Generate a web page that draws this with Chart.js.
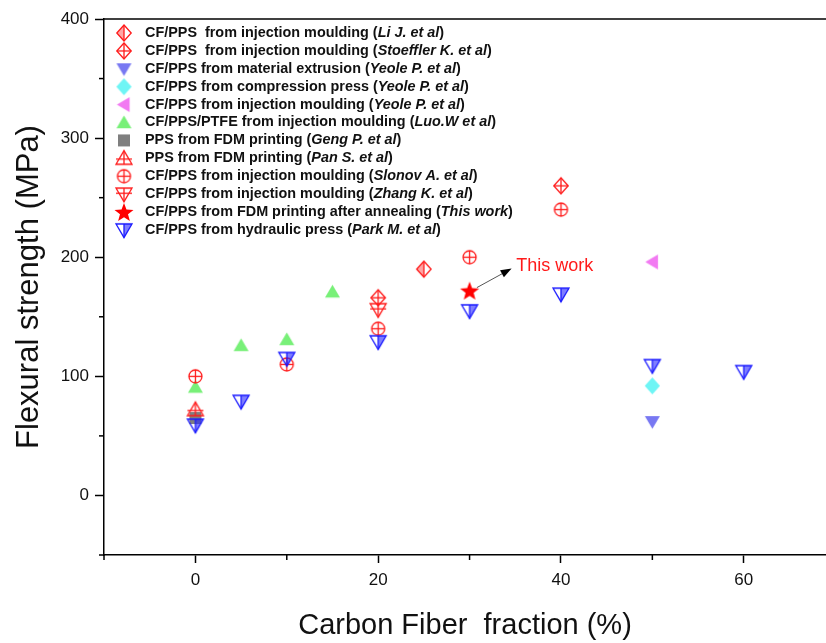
<!DOCTYPE html>
<html>
<head>
<meta charset="utf-8">
<script src="https://cdn.jsdelivr.net/npm/chart.js@4/dist/chart.umd.min.js"></script>
<style>
html, body { margin: 0; padding: 0; background: #fff; overflow: hidden; }
</style>
</head>
<body>
<canvas id="myChart" width="834" height="643"></canvas>
<script>
// data: [fiber fraction %, flexural strength MPa]
const liJ = [[25, 190]];
const stoeffler = [[20, 166], [40, 260]];
const yeoleExtrusion = [[50, 62]];
const yeoleCompression = [[50, 92]];
const yeoleInjection = [[50, 196]];
const luo = [[0, 91], [5, 126], [10, 131], [15, 171]];
const geng = [[0, 65]];
const pan = [[0, 72]];
const slonov = [[0, 100], [10, 110], [20, 140], [30, 200], [40, 240]];
const zhang = [[20, 156]];
const thisWork = [[30, 172]];
const park = [[0, 59], [5, 79], [10, 115], [20, 129], [30, 155], [40, 169], [50, 109], [60, 104]];

const legendText = [
	'CF/PPS  from injection moulding (',
	'CF/PPS  from injection moulding (',
	'CF/PPS from material extrusion (',
	'CF/PPS from compression press (',
	'CF/PPS from injection moulding (',
	'CF/PPS/PTFE from injection moulding (',
	'PPS from FDM printing (',
	'PPS from FDM printing (',
	'CF/PPS from injection moulding (',
	'CF/PPS from injection moulding (',
	'CF/PPS from FDM printing after annealing (',
	'CF/PPS from hydraulic press ('
];
const legendAuthor = [
	'Li J. et al', 'Stoeffler K. et al', 'Yeole P. et al', 'Yeole P. et al',
	'Yeole P. et al', 'Luo.W et al', 'Geng P. et al', 'Pan S. et al',
	'Slonov A. et al', 'Zhang K. et al', 'This work', 'Park M. et al'
];

const xTicks = [-10, 0, 10, 20, 30, 40, 50, 60];
const xTickLabels = ['0', '20', '40', '60'];
const yTicks = [-50, 0, 50, 100, 150, 200, 250, 300, 350, 400];
const yTickLabels = ['0', '100', '200', '300', '400'];

const RED = '#ff1a1a';
const BLUE = '#1a1aff';

// draw one marker into its own little canvas, used as pointStyle
function makeMarker(kind, color, fill, size) {
	const s = size + 4;
	const c = document.createElement('canvas');
	c.width = s; c.height = s;
	const g = c.getContext('2d');
	const m = s / 2, r = size / 2;
	g.lineWidth = 1.3;
	g.strokeStyle = color;
	g.fillStyle = fill;
	g.lineJoin = 'miter';

	function diamond() {
		g.beginPath();
		g.moveTo(m, m - r); g.lineTo(m + r * 0.9, m); g.lineTo(m, m + r); g.lineTo(m - r * 0.9, m); g.closePath();
	}
	function triDown() {
		g.beginPath();
		g.moveTo(m - r, m - r * 0.75); g.lineTo(m + r, m - r * 0.75); g.lineTo(m, m + r * 0.95); g.closePath();
	}
	function triUp() {
		g.beginPath();
		g.moveTo(m - r, m + r * 0.75); g.lineTo(m + r, m + r * 0.75); g.lineTo(m, m - r * 0.95); g.closePath();
	}
	function line(x1, y1, x2, y2) {
		g.beginPath(); g.moveTo(x1, y1); g.lineTo(x2, y2); g.stroke();
	}

	if (kind === 'diamondHalf') {
		g.save(); diamond(); g.clip(); g.fillRect(0, 0, m, s); g.restore();
		diamond(); g.stroke();
		line(m, m - r, m, m + r);
	} else if (kind === 'diamondCross') {
		diamond(); g.stroke();
		line(m, m - r, m, m + r);
		line(m - r * 0.9, m, m + r * 0.9, m);
	} else if (kind === 'triDown') {
		triDown(); g.fill();
	} else if (kind === 'diamond') {
		diamond(); g.fill();
	} else if (kind === 'triLeft') {
		g.beginPath();
		g.moveTo(m + r * 0.75, m - r); g.lineTo(m + r * 0.75, m + r); g.lineTo(m - r * 0.95, m); g.closePath();
		g.fill();
	} else if (kind === 'triUp') {
		triUp(); g.fill();
	} else if (kind === 'square') {
		g.fillRect(m - r, m - r, size, size);
	} else if (kind === 'triUpCross') {
		triUp(); g.stroke();
		line(m, m - r * 0.95, m, m + r * 0.75);
		line(m - r, m + r * 0.1, m + r, m + r * 0.1);
	} else if (kind === 'circleCross') {
		g.beginPath(); g.arc(m, m, r, 0, Math.PI * 2); g.stroke();
		line(m, m - r, m, m + r);
		line(m - r, m, m + r, m);
	} else if (kind === 'triDownCross') {
		triDown(); g.stroke();
		line(m, m - r * 0.75, m, m + r * 0.95);
		line(m - r, m - r * 0.1, m + r, m - r * 0.1);
	} else if (kind === 'star') {
		g.beginPath();
		for (let i = 0; i < 10; i++) {
			const a = -Math.PI / 2 + i * Math.PI / 5;
			const rr = i % 2 === 0 ? r : r * 0.42;
			const px = m + rr * Math.cos(a), py = m + 1 + rr * Math.sin(a);
			if (i === 0) g.moveTo(px, py); else g.lineTo(px, py);
		}
		g.closePath(); g.fill();
	} else if (kind === 'triDownHalf') {
		g.save(); triDown(); g.clip(); g.fillRect(m, 0, m, s); g.restore();
		triDown(); g.stroke();
		line(m, m - r * 0.75, m, m + r * 0.95);
	}
	return c;
}

const markers = [
	makeMarker('diamondHalf', RED, 'rgba(255,0,0,0.35)', 16),
	makeMarker('diamondCross', RED, RED, 16),
	makeMarker('triDown', '#7878f2', '#7878f2', 15),
	makeMarker('diamond', '#6ff5f5', '#6ff5f5', 17),
	makeMarker('triLeft', '#f27af2', '#f27af2', 15),
	makeMarker('triUp', '#78f078', '#78f078', 15),
	makeMarker('square', '#7f7f7f', '#7f7f7f', 12),
	makeMarker('triUpCross', RED, RED, 16),
	makeMarker('circleCross', RED, RED, 13),
	makeMarker('triDownCross', RED, RED, 16),
	makeMarker('star', '#ff0000', '#ff0000', 20),
	makeMarker('triDownHalf', BLUE, 'rgba(40,40,255,0.6)', 16)
];

const seriesList = [liJ, stoeffler, yeoleExtrusion, yeoleCompression, yeoleInjection, luo,
	geng, pan, slonov, zhang, thisWork, park];

const datasets = seriesList.map((pts, i) => ({
	label: legendAuthor[i],
	data: pts.map(p => ({x: p[0], y: p[1]})),
	pointStyle: markers[i],
	showLine: false,
	order: seriesList.length - i
}));

// legend with bold text and bold-italic authors
const legendPlugin = {
	id: 'mixedLegend',
	afterDatasetsDraw(chart) {
		const ctx = chart.ctx;
		ctx.save();
		ctx.textBaseline = 'middle';
		ctx.fillStyle = '#111';
		for (let i = 0; i < legendText.length; i++) {
			const y = 33 + i * 17.9;
			const mk = markers[i];
			ctx.drawImage(mk, 124 - mk.width / 2, y - mk.height / 2);
			let x = 145;
			ctx.font = 'bold 14.4px "Liberation Sans", Arial, sans-serif';
			ctx.fillText(legendText[i], x, y);
			x += ctx.measureText(legendText[i]).width;
			ctx.font = 'italic bold 14.4px "Liberation Sans", Arial, sans-serif';
			ctx.fillText(legendAuthor[i], x, y);
			x += ctx.measureText(legendAuthor[i]).width;
			ctx.font = 'bold 14.4px "Liberation Sans", Arial, sans-serif';
			ctx.fillText(')', x, y);
		}
		ctx.restore();
	}
};

// top frame line, minor ticks, "This work" arrow
const framePlugin = {
	id: 'frame',
	afterDraw(chart) {
		const ctx = chart.ctx;
		const a = chart.chartArea;
		const xs = chart.scales.x, ys = chart.scales.y;
		ctx.save();
		ctx.strokeStyle = '#000';
		ctx.lineWidth = 1.5;
		ctx.beginPath();
		ctx.moveTo(a.left, a.top); ctx.lineTo(a.right, a.top);
		ctx.stroke();
		xTicks.forEach(v => {
			if (v % 20 === 0) return;
			const px = xs.getPixelForValue(v);
			ctx.beginPath(); ctx.moveTo(px, a.bottom); ctx.lineTo(px, a.bottom + 5); ctx.stroke();
		});
		yTicks.forEach(v => {
			if (v % 100 === 0) return;
			const py = ys.getPixelForValue(v);
			ctx.beginPath(); ctx.moveTo(a.left, py); ctx.lineTo(a.left - 5, py); ctx.stroke();
		});

		// arrow from the star to the label
		const x1 = xs.getPixelForValue(30.8), y1 = ys.getPixelForValue(174.5);
		const x2 = xs.getPixelForValue(34.6), y2 = ys.getPixelForValue(190.5);
		const ang = Math.atan2(y2 - y1, x2 - x1);
		ctx.strokeStyle = '#555';
		ctx.lineWidth = 1;
		ctx.beginPath(); ctx.moveTo(x1, y1); ctx.lineTo(x2 - 8 * Math.cos(ang), y2 - 8 * Math.sin(ang)); ctx.stroke();
		ctx.fillStyle = '#000';
		ctx.beginPath();
		ctx.moveTo(x2, y2);
		ctx.lineTo(x2 - 11 * Math.cos(ang) + 4 * Math.sin(ang), y2 - 11 * Math.sin(ang) - 4 * Math.cos(ang));
		ctx.lineTo(x2 - 11 * Math.cos(ang) - 4 * Math.sin(ang), y2 - 11 * Math.sin(ang) + 4 * Math.cos(ang));
		ctx.closePath(); ctx.fill();

		ctx.fillStyle = '#ff1a1a';
		ctx.font = '18px "Liberation Sans", Arial, sans-serif';
		ctx.textBaseline = 'middle';
		ctx.fillText('This work', xs.getPixelForValue(35.1), ys.getPixelForValue(193));
		ctx.restore();
	}
};

const tickFont = {family: '"Liberation Sans", Arial, sans-serif', size: 17};
const titleFont = {family: '"Liberation Sans", Arial, sans-serif', size: 29};

const ctx = document.getElementById('myChart').getContext('2d');
const myChart = new Chart(ctx, {
	type: 'scatter',
	data: { datasets: datasets },
	options: {
		responsive: false,
		animation: false,
		layout: { padding: { top: 19, right: 0, bottom: 0, left: 0 } },
		plugins: {
			legend: { display: false },
			tooltip: { enabled: false }
		},
		elements: { point: { radius: 7 } },
		scales: {
			x: {
				type: 'linear',
				min: -10,
				max: 69,
				afterBuildTicks: s => { s.ticks = xTicks.map(v => ({value: v})); },
				afterFit: s => { s.height = 88; },
				ticks: {
					color: '#111',
					font: tickFont,
					padding: 7,
					maxRotation: 0,
					autoSkip: false,
					callback: v => (v % 20 === 0 ? xTickLabels[v / 20] : '')
				},
				grid: {
					drawOnChartArea: false,
					tickLength: 8,
					tickWidth: 1.5,
					tickColor: c => (c.tick && c.tick.value % 20 === 0 ? '#000' : 'rgba(0,0,0,0)')
				},
				border: { color: '#000', width: 1.5 },
				title: {
					display: true,
					text: 'Carbon Fiber  fraction (%)',
					color: '#111',
					font: titleFont,
					padding: { top: 0, bottom: 0 }
				}
			},
			y: {
				type: 'linear',
				min: -50,
				max: 400,
				afterBuildTicks: s => { s.ticks = yTicks.map(v => ({value: v})); },
				afterFit: s => { s.width = 104; },
				ticks: {
					color: '#111',
					font: tickFont,
					padding: 6,
					autoSkip: false,
					callback: v => (v % 100 === 0 ? yTickLabels[v / 100] : '')
				},
				grid: {
					drawOnChartArea: false,
					tickLength: 9,
					tickWidth: 1.5,
					tickColor: c => (c.tick && c.tick.value % 100 === 0 ? '#000' : 'rgba(0,0,0,0)')
				},
				border: { color: '#000', width: 1.5 },
				title: {
					display: true,
					text: 'Flexural strength (MPa)',
					color: '#111',
					font: { family: '"Liberation Sans", Arial, sans-serif', size: 31 },
					padding: { top: 11, bottom: 0 }
				}
			}
		}
	},
	plugins: [legendPlugin, framePlugin]
});
</script>
</body>
</html>
